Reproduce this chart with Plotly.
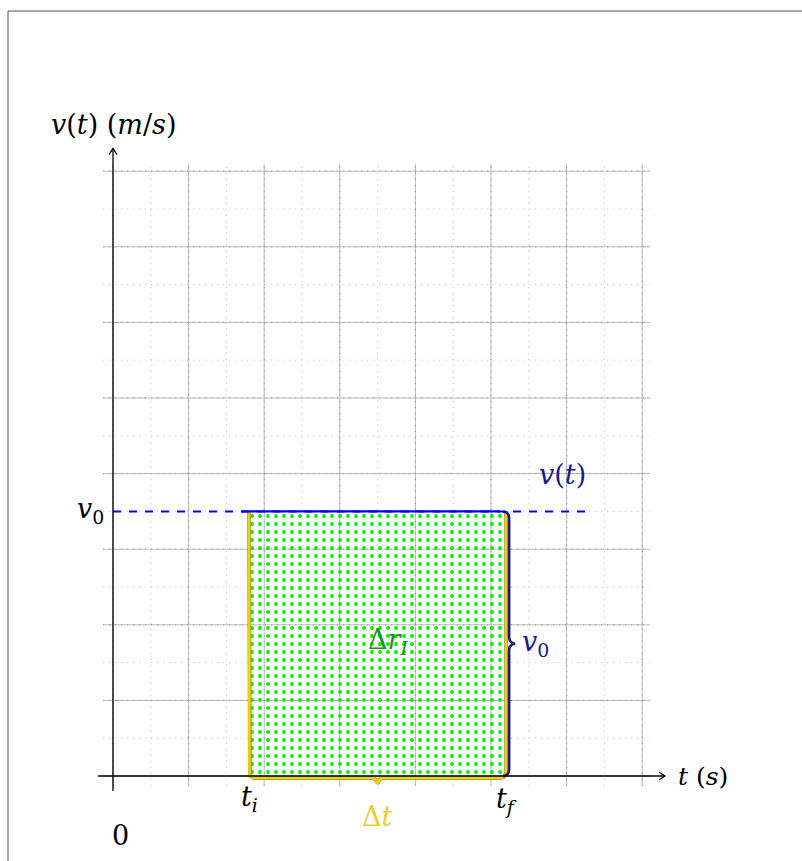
import numpy as np
import plotly.graph_objects as go

# --- values -------------------------------------------------------------
t_i = 1.8          # start of the interval (s)
t_f = 5.2          # end of the interval (s)
v0 = 3.5           # constant velocity (m/s)
v_dash_end = 6.25  # where the dashed v(t) line stops
x_major = [0, 1, 2, 3, 4, 5, 6, 7]
y_major = [0, 1, 2, 3, 4, 5, 6, 7, 8]
x_minor = [0.5, 1.5, 2.5, 3.5, 4.5, 5.5, 6.5]
y_minor = [0.5, 1.5, 2.5, 3.5, 4.5, 5.5, 6.5, 7.5]
grid_x = [-0.13, 7.1]
grid_y = [-0.13, 8.1]
axis_x = [-0.2, 7.3]
axis_y = [-0.2, 8.3]

# --- page geometry ------------------------------------------------------
W, H = 802, 861
PX = 75.6                 # pixels per unit
OX, OY = 113, 776         # origin in pixels
x_range = [-OX / PX, (W - OX) / PX]
y_range = [(OY - H) / PX, OY / PX]
u = 1.0 / PX              # one pixel in data units

FONT = "DejaVu Serif, Liberation Serif, serif"
NAVY = "#1a1a86"
BLUE = "#0000ff"
YELLOW = "#ecd200"
GREEN_TXT = "#259025"
GREEN_DOT = "#00ee00"

fig = go.Figure()


def segs(pairs):
    xs, ys = [], []
    for (x0, y0), (x1, y1) in pairs:
        xs += [x0, x1, None]
        ys += [y0, y1, None]
    return xs, ys


def line(xs, ys, color, width, dash="solid"):
    fig.add_trace(go.Scatter(x=xs, y=ys, mode="lines", hoverinfo="skip",
                             line=dict(color=color, width=width, dash=dash)))


def arc(cx, cy, r, a0, a1, n=10):
    a = np.radians(np.linspace(a0, a1, n))
    return list(cx + r * np.cos(a)), list(cy + r * np.sin(a))


# minor grid (fine dots)
xs, ys = segs([((x, grid_y[0]), (x, grid_y[1])) for x in x_minor] +
              [((grid_x[0], y), (grid_x[1], y)) for y in y_minor])
line(xs, ys, "#bdbdbd", 1, "1px,5px")

# major grid
xs, ys = segs([((x, grid_y[0]), (x, grid_y[1])) for x in x_major] +
              [((grid_x[0], y), (grid_x[1], y)) for y in y_major])
line(xs, ys, "#b4b4b4", 0.9)
line(xs, ys, "#8c8c8c", 1, "1px,5px")

# dotted area under v(t) between t_i and t_f
fig.add_trace(go.Scatter(
    x=[t_i, t_f, t_f, t_i, t_i], y=[0, 0, v0, v0, 0],
    mode="lines", fill="toself", hoverinfo="skip",
    line=dict(width=0, color="rgba(0,0,0,0)"),
    fillcolor="rgba(0,0,0,0)",
    fillpattern=dict(shape=".", fgcolor=GREEN_DOT, fgopacity=1,
                     bgcolor="rgba(0,0,0,0)", size=8, solidity=0.18),
))

# yellow outline with brace under the interval
r = 6 * u
yb = -2 * u
mid = (t_i + t_f) / 2
px_, py_ = [t_i], [v0]
for cx, cy, a0, a1 in [(t_i + r, yb + r, 180, 270),
                       (mid - r, yb - r, 90, 0),
                       (mid + r, yb - r, 180, 90),
                       (t_f - r, yb + r, 270, 360)]:
    ax_, ay_ = arc(cx, cy, r, a0, a1)
    px_ += ax_
    py_ += ay_
px_ += [t_f]
py_ += [v0]
line(px_, py_, "#9a9040", 3.8)
line(px_, py_, YELLOW, 2.6)

# navy brace on the right side (height v0)
xb = t_f + 3 * u
vm = v0 / 2
px_, py_ = [], []
for cx, cy, a0, a1 in [(xb - r, v0 - r, 90, 0),
                       (xb + r, vm + r, 180, 270),
                       (xb + r, vm - r, 90, 180),
                       (xb - r, r, 0, -90)]:
    ax_, ay_ = arc(cx, cy, r, a0, a1)
    px_ += ax_
    py_ += ay_
line(px_, py_, NAVY, 2.6)

# v(t) = v0 : dashed over the whole range, solid over [t_i, t_f]
line([0, v_dash_end], [v0, v0], BLUE, 2, "8px,8px")
line([t_i - 8 * u, t_f - r], [v0, v0], BLUE, 2.4)

# axes with open arrow heads
ah, aw = 6 * u, 4 * u
line([axis_x[0], axis_x[1], None, axis_x[1] - ah, axis_x[1], axis_x[1] - ah],
     [0, 0, None, aw, 0, -aw], "#000000", 1.3)
line([0, 0, None, -aw, 0, aw],
     [axis_y[0], axis_y[1], None, axis_y[1] - ah, axis_y[1], axis_y[1] - ah],
     "#000000", 1.3)


def label(text, x, y, color="#000000", size=27, xanchor="center",
          yanchor="middle", xshift=0, yshift=0):
    fig.add_annotation(x=x, y=y, text=text, showarrow=False,
                       xanchor=xanchor, yanchor=yanchor,
                       xshift=xshift, yshift=yshift,
                       font=dict(family=FONT, size=size, color=color))


label("<i>v</i>(<i>t</i>) (<i>m</i>/<i>s</i>)", 0, axis_y[1], yshift=24)
label("<i>v</i><sub>0</sub>", 0, v0, xanchor="right", xshift=-7, yshift=1)
label("<i>v</i>(<i>t</i>)", 5.94, v0, color=NAVY, yshift=37)
label("Δ<i>r</i><sub><i>I</i></sub>", mid, vm, color=GREEN_TXT, xshift=10, yshift=2)
label("<i>v</i><sub>0</sub>", xb, vm, color=NAVY, xanchor="left", xshift=11)
label("<i>t</i><sub><i>i</i></sub>", t_i, 0, yshift=-22)
label("<i>t</i><sub><i>f</i></sub>", t_f, 0, yshift=-24)
label("Δ<i>t</i>", mid, 0, color="#e8d034", yshift=-40)
label("0", 0, 0, xshift=7, yshift=-59)
label("<i>t</i> (<i>s</i>)", axis_x[1], 0, size=25, xanchor="left", xshift=11)

# page frame
fig.add_shape(type="line", xref="paper", yref="paper",
              x0=8 / W, x1=8 / W, y0=0, y1=1 - 11 / H,
              line=dict(color="#555555", width=1))
fig.add_shape(type="line", xref="paper", yref="paper",
              x0=8 / W, x1=1, y0=1 - 11 / H, y1=1 - 11 / H,
              line=dict(color="#555555", width=1))

fig.update_layout(
    width=W, height=H, margin=dict(l=0, r=0, t=0, b=0),
    paper_bgcolor="white", plot_bgcolor="white", showlegend=False,
    xaxis=dict(range=x_range, visible=False, fixedrange=True),
    yaxis=dict(range=y_range, visible=False, fixedrange=True),
)

fig.write_html("out.html")
